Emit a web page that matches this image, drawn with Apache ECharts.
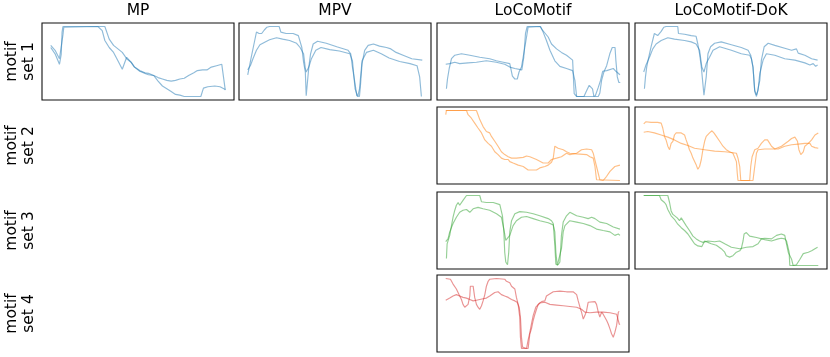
<!DOCTYPE html>
<html><head><meta charset="utf-8">
<script src="https://cdn.jsdelivr.net/npm/echarts@6/dist/echarts.min.js"></script>
<style>html,body{margin:0;padding:0;background:#fff}#c{width:830px;height:357px}</style>
</head><body><div id="c"></div>
<script>
// ---- labels ----
const methods = ['MP', 'MPV', 'LoCoMotif', 'LoCoMotif-DoK'];
const motifSets = ['motif\nset 1', 'motif\nset 2', 'motif\nset 3', 'motif\nset 4'];

// ---- data: [time (% of motif length), normalised value] ----
const mp_set1_a = [[0,73],[2.5,66],[5,54],[7,88],[7.5,99],[8,100],[27,100],[29.5,94],[31,80],[33.5,70],[36,63],[38.5,51],[41,39],[43.5,56],[46,49],[48,42],[51,36],[54,33],[56,31],[59,30],[61.5,27],[64,25],[66.5,23],[69,22],[71.5,23],[74,25],[76.5,26],[79,30],[82,34],[84,37],[87,38],[89.5,38],[92,42],[95,44],[98,46],[99,46],[100,9]];
const mp_set1_b = [[0,70],[2.5,61],[5,46],[6,60],[6.5,92],[7,100],[31,100],[33.5,82],[36,73],[38.5,68],[41,63],[43.5,54],[46,49],[48,42],[51,37],[54,34],[56,33],[59,30],[61.5,22],[64,15],[66.5,11],[69,7],[71.5,3],[74,2],[76.5,0],[86,0],[87.5,12],[90,14],[94,15],[97,14],[100,10]];

const mpv_set1_a = [[0,31],[2,56],[4,80],[5,92],[6.5,90],[8,90],[9.5,95],[11,99],[12.5,100],[18,100],[19,92],[22,90],[26,90],[29,87],[30,86],[31,70],[32,49],[33,35],[33.5,1],[34.5,3],[35,42],[36,61],[37.5,75],[40,79],[45,76],[51,71],[57.5,66],[59,61],[60,42],[61.5,18],[62.5,1],[64,0],[64.5,13],[65.5,47],[67,66],[69,73],[72,75],[75.5,72],[79.5,70],[82,68],[85,63],[89,59],[94,54],[100,52]];
const mpv_set1_b = [[0,38],[1.5,44],[3,54],[5,66],[7,74],[10,78],[12.5,81],[16.5,84],[20,82],[24,80],[28,76],[30,70],[32,61],[33,40],[33.5,35],[35,42],[36.5,54],[39,66],[42,70],[47,67],[52.5,65],[58.5,61],[60,51],[61.5,11],[63,0],[64,10],[65.5,51],[68,63],[72,66],[76.5,61],[81,55],[87,50],[93,47],[97,44],[98.5,28],[99.5,0]];

const loco_set1_a = [[0.4,11],[1,25],[2,40],[3.3,54],[5.2,59],[9,61],[13.8,59],[19.5,56],[25.2,54],[29,51],[33,49],[36.7,47],[38.2,29],[39.6,25],[41,25],[42,35],[43.4,42],[44.4,40],[45.3,70],[46.3,85],[47.2,99],[48.2,100],[54,100],[55.4,95],[58.7,85],[60.6,75],[63.5,68],[66.3,63],[69.2,59],[72.7,52],[73.6,4],[75,0],[84.5,0],[85.7,1],[87.4,13],[88.7,23],[89.9,36],[92.2,37],[96,40],[97.5,36],[99.8,31]];
const loco_set1_b = [[0,46],[2.3,47],[5.2,49],[8,47],[12.8,48],[17.6,49],[23.3,51],[29,49],[33.8,46],[36.7,42],[39.6,40],[43.6,38],[44.7,56],[45.7,90],[46.7,100],[54.3,100],[55.8,92],[57.7,80],[59.7,66],[62.5,51],[65.4,43],[69.2,40],[72.7,37],[74,23],[75,0],[79.2,0],[80.3,6],[82.2,16],[83.2,18],[84.1,11],[84.9,0],[87.4,0],[88.3,5],[89.3,23],[90.6,35],[92.2,44],[94,61],[95.4,70],[97,70],[97.5,51],[98.3,28],[99.2,20],[100,20]];

const dok_set1_a = [[0.4,11],[1,28],[1.7,42],[2.7,54],[4.2,71],[6.1,90],[7.1,92],[8,87],[10,93],[11.5,99],[12.8,100],[19.5,100],[19.9,90],[23.4,89],[27.2,87],[30,86],[31,75],[32,61],[33,42],[33.9,18],[34.5,2],[35.2,2],[35.8,28],[36.8,61],[38.3,71],[40.6,76],[44.4,78],[50.2,74],[55.9,70],[59.8,66],[61.3,59],[62.6,42],[63.6,7],[64.6,0],[65.5,0],[66.5,23],[67.4,52],[69,71],[71.3,76],[75.1,73],[80.8,69],[84.7,66],[87.5,68],[88.5,62],[92.3,59],[96.2,54],[99.6,52]];
const dok_set1_b = [[0,35],[1.3,45],[3.3,56],[5.2,68],[7.1,75],[10,80],[13.8,84],[17.6,82],[23.4,80],[27.2,78],[30,75],[32,66],[33.3,42],[34.5,35],[35.8,47],[37.7,56],[39.7,66],[43.5,71],[50.2,66],[55.9,61],[60.7,59],[61.7,54],[62.6,42],[63.6,9],[64.6,2],[65.5,9],[66.5,33],[68.4,52],[70.3,61],[75.1,59],[80.8,54],[86.6,52],[92.3,48],[95.2,45],[97.1,47],[98.5,43],[99.6,45]];

const loco_set2_a = [[0,94],[0.4,100],[11.9,100],[12.8,94],[14.7,89],[16.6,82],[18.5,75],[20.5,68],[22.4,58],[24.3,53],[26.2,49],[28.1,41],[30,37],[31.9,32],[33.8,30],[35.8,30],[36.7,27],[38.6,25],[41.5,22],[44.4,20],[47.2,15],[49.1,15],[50.1,13],[52,15],[53.9,18],[56.8,20],[58.7,22],[60.6,26],[61.6,32],[62.5,49],[64.4,46],[67.3,44],[69.2,41],[71.1,39],[75,38],[80.7,37],[82.6,34],[84.5,32],[85.5,20],[86.4,1],[87.4,0],[99.8,0]];
const loco_set2_b = [[0,100],[17.6,100],[18.5,94],[19.5,87],[21.4,77],[23.3,70],[25.2,68],[26.2,63],[28.1,56],[30,49],[31.9,41],[33.8,37],[35.8,34],[37.7,32],[40.5,32],[44.4,33],[46.3,35],[48.2,34],[52,30],[55.8,25],[58.7,25],[60.6,30],[63.5,32],[66.3,34],[69.2,39],[71.1,37],[75,39],[77.8,44],[80.7,45],[83.6,44],[84.5,39],[86.4,20],[87.4,10],[88.3,1],[90.2,0],[92.2,6],[94.1,13],[96.9,20],[99.8,22]];

const dok_set2_a = [[0,81],[1.3,84],[4.2,83],[8,83],[10,82],[10.9,75],[11.9,63],[12.8,58],[13.8,49],[14.8,44],[15.7,53],[16.7,56],[17.6,65],[18.6,68],[21.5,68],[23.4,65],[24.3,58],[25.3,51],[26.2,44],[27.2,39],[28.2,32],[30.1,22],[31,16],[32,20],[33,30],[33.9,44],[34.9,56],[35.8,63],[37.7,68],[39.1,71],[40.2,68],[41.6,63],[43.5,56],[45.4,49],[47.3,44],[49.2,41],[51.1,39],[52.1,37],[53.1,27],[53.6,10],[54,0],[60.7,0],[61.3,20],[62.1,34],[63.6,44],[65.5,46],[67.4,53],[69.3,58],[70.9,58],[72.2,53],[73.2,49],[75.1,45],[78.9,49],[82.8,56],[84.7,60],[86.6,62],[88.1,56],[88.9,44],[90,37],[91.4,41],[92.3,49],[94.3,53],[96.2,58],[98.1,65],[100,68]];
const dok_set2_b = [[0,69],[2.3,70],[6.1,68],[10,65],[13.8,62],[17.6,58],[21.5,53],[25.3,50],[29.1,46],[34.9,44],[40.6,42],[46.4,41],[50.2,40],[53.1,39],[54,32],[55,20],[55.6,0],[62.6,0],[63.6,20],[64.6,39],[65.5,44],[69.3,45],[73.2,45],[77,45],[80.8,49],[84.7,51],[88.5,52],[92.3,53],[95.2,53],[96.2,49],[98.1,47],[100,46]];

const loco_set3_a = [[0.4,10],[0.8,31],[2.3,43],[3.3,57],[4.2,69],[5.2,79],[6.1,86],[7.1,90],[8,86],[9,88],[9.9,93],[10.9,94],[11.9,100],[19.5,100],[20.5,91],[23.3,90],[27.2,90],[31,87],[31.9,85],[32.5,71],[33.3,48],[33.8,19],[34.4,5],[35.4,1],[36.1,19],[36.7,48],[37.7,64],[39.6,74],[42.4,77],[46.3,76],[50.1,74],[53.9,71],[58.7,67],[60.6,64],[61.6,60],[62.5,29],[63.1,2],[64.4,1],[65.4,5],[66.3,43],[67.3,62],[69.2,71],[71.1,76],[75,71],[78.8,69],[81.6,67],[83.6,69],[85.5,67],[88.3,62],[92.2,60],[96,55],[99.8,52]];
const loco_set3_b = [[0,34],[1.3,38],[2.3,48],[4.2,60],[6.1,69],[8,76],[9.9,79],[11.9,80],[13.8,76],[15.7,81],[18.5,83],[21.4,81],[25.2,79],[29.1,74],[31.9,69],[33.3,52],[34.4,36],[35.4,36],[36.7,43],[38.6,57],[40.5,64],[43.4,69],[46.3,70],[50.1,67],[53.9,64],[58.7,61],[61.6,58],[62.5,48],[63.1,19],[63.9,0],[65,0],[66.3,24],[67.3,48],[68.3,57],[71.1,64],[75,62],[78.8,60],[82.6,57],[86.4,52],[90.2,50],[94.1,48],[96.9,43],[98.9,45],[99.8,43]];

const dok_set3_a = [[0,100],[9,100],[10,94],[11.9,90],[12.8,87],[13.8,80],[15.7,71],[17.6,66],[19.5,59],[21.5,54],[23.4,50],[25.3,45],[27.2,38],[29.1,31],[31,28],[33.3,27],[34.9,35],[36.8,33],[38.7,31],[41.6,29],[44.4,24],[46.4,19],[47.3,14],[49.2,12],[51.1,14],[53.1,19],[55,21],[55.9,24],[56.9,35],[57.5,45],[58.8,47],[60.7,42],[64.6,40],[65.5,38],[69.3,37],[73.2,35],[77,38],[78.9,39],[80.8,38],[81.8,35],[82.8,33],[83.3,19],[83.7,0],[100,0]];
const dok_set3_b = [[0,100],[13.8,100],[14.8,90],[15.7,78],[16.7,73],[17.6,71],[19.2,68],[20.5,64],[21.5,68],[22.4,66],[24.3,57],[26.2,50],[28.2,42],[30.1,38],[32,35],[33.9,33],[36.8,35],[40.6,34],[43.5,35],[46.4,31],[50.2,26],[55,24],[58.8,26],[62.6,27],[65.5,31],[67.4,38],[69.3,39],[73.2,38],[76.1,43],[78.9,45],[80.8,43],[81.8,31],[82.8,19],[84.7,9],[85.6,0],[87.5,1],[89.5,9],[91.4,17],[94.3,19],[96.2,21],[98.1,24],[99.6,26]];

const loco_set4_a = [[0,100],[2.7,99],[4.2,92],[6.1,85],[7.6,77],[9,70],[9.9,63],[10.9,59],[11.9,60],[12.8,63],[13.8,75],[14.1,89],[15.7,89],[16.6,73],[17.6,63],[18.5,59],[19.5,56],[20.5,61],[21.4,68],[22.4,77],[23.3,89],[24.3,96],[25.2,99],[29.1,100],[33.8,99],[34.8,96],[36.7,94],[37.7,89],[39.6,85],[40.5,73],[41.5,63],[42.4,45],[42.8,16],[43.4,0],[47.2,0],[48.2,21],[49.1,28],[50.1,40],[51.1,49],[52,56],[53,63],[54.9,67],[56.8,68],[57.7,75],[58.7,77],[61.6,81],[65.4,82],[69.2,81],[73,81],[75,77],[75.9,68],[76.9,59],[77.8,52],[78.8,42],[79.7,47],[80.7,54],[81.6,66],[82.6,68],[85.5,67],[86.4,63],[87.4,52],[88.3,45],[89.3,52],[90.2,49],[92.2,40],[93.1,35],[94.1,28],[95,21],[96,16],[96.9,23],[97.9,33],[98.9,52],[99.4,53]];
const loco_set4_b = [[0,69],[2.3,72],[4.2,75],[6.1,77],[8,75],[9.9,73],[11.9,72],[13.8,70],[15.7,68],[17.6,69],[19.5,70],[21.4,71],[23.3,72],[25.2,75],[28.1,80],[30,81],[31.9,77],[33.8,75],[35.8,73],[37.7,70],[39.6,68],[40.9,66],[42.1,59],[42.8,45],[43.4,16],[44,2],[44.9,0],[46.3,0],[47.2,12],[48.2,23],[49.1,35],[50.1,47],[51.6,59],[53.9,65],[56.8,66],[59.7,63],[63.5,62],[67.3,61],[71.1,60],[75,59],[77.8,56],[79.7,52],[82.6,51],[86.4,52],[90.2,52],[94.1,51],[97.9,49],[98.9,49],[99.4,35],[99.8,34]];

// ---- panel layout ----
const colLeft = [42, 239, 437, 635];
const rowTop = [23, 107, 192, 275];
const panelW = 192, panelH = 77;
const colors = ['#1f77b4', '#ff7f0e', '#2ca02c', '#d62728'];

const panels = [
  {row:0, col:0, lines:[mp_set1_a, mp_set1_b]},
  {row:0, col:1, lines:[mpv_set1_a, mpv_set1_b]},
  {row:0, col:2, lines:[loco_set1_a, loco_set1_b]},
  {row:0, col:3, lines:[dok_set1_a, dok_set1_b]},
  {row:1, col:2, lines:[loco_set2_a, loco_set2_b]},
  {row:1, col:3, lines:[dok_set2_a, dok_set2_b]},
  {row:2, col:2, lines:[loco_set3_a, loco_set3_b]},
  {row:2, col:3, lines:[dok_set3_a, dok_set3_b]},
  {row:3, col:2, lines:[loco_set4_a, loco_set4_b]}
];

const grid = [], xAxis = [], yAxis = [], series = [];
panels.forEach((p, i) => {
  grid.push({left: colLeft[p.col], top: rowTop[p.row], width: panelW, height: panelH,
    show: true, borderColor: '#111', borderWidth: 1.1, backgroundColor: '#fff'});
  xAxis.push({gridIndex: i, type: 'value', min: -5, max: 105, show: false});
  yAxis.push({gridIndex: i, type: 'value', min: -5, max: 105, show: false});
  p.lines.forEach(d => {
    series.push({type: 'line', xAxisIndex: i, yAxisIndex: i, data: d, showSymbol: false,
      silent: true, animation: false,
      lineStyle: {color: colors[p.row], width: 1.15, opacity: 0.5}});
  });
});

const graphic = [];
methods.forEach((m, c) => {
  graphic.push({type: 'text', x: colLeft[c] + panelW / 2, y: 11,
    style: {text: m, textAlign: 'center', textVerticalAlign: 'middle',
      font: '15.5px "DejaVu Sans"', fill: '#000'}});
});
motifSets.forEach((s, r) => {
  graphic.push({type: 'text', x: 20.5, y: rowTop[r] + panelH / 2, rotation: Math.PI / 2,
    style: {text: s, textAlign: 'center', textVerticalAlign: 'middle', lineHeight: 17.5,
      font: '15.5px "DejaVu Sans"', fill: '#000'}});
});

const chart = echarts.init(document.getElementById('c'), null, {renderer: 'canvas'});
chart.setOption({animation: false, grid, xAxis, yAxis, series, graphic});
</script></body></html>
